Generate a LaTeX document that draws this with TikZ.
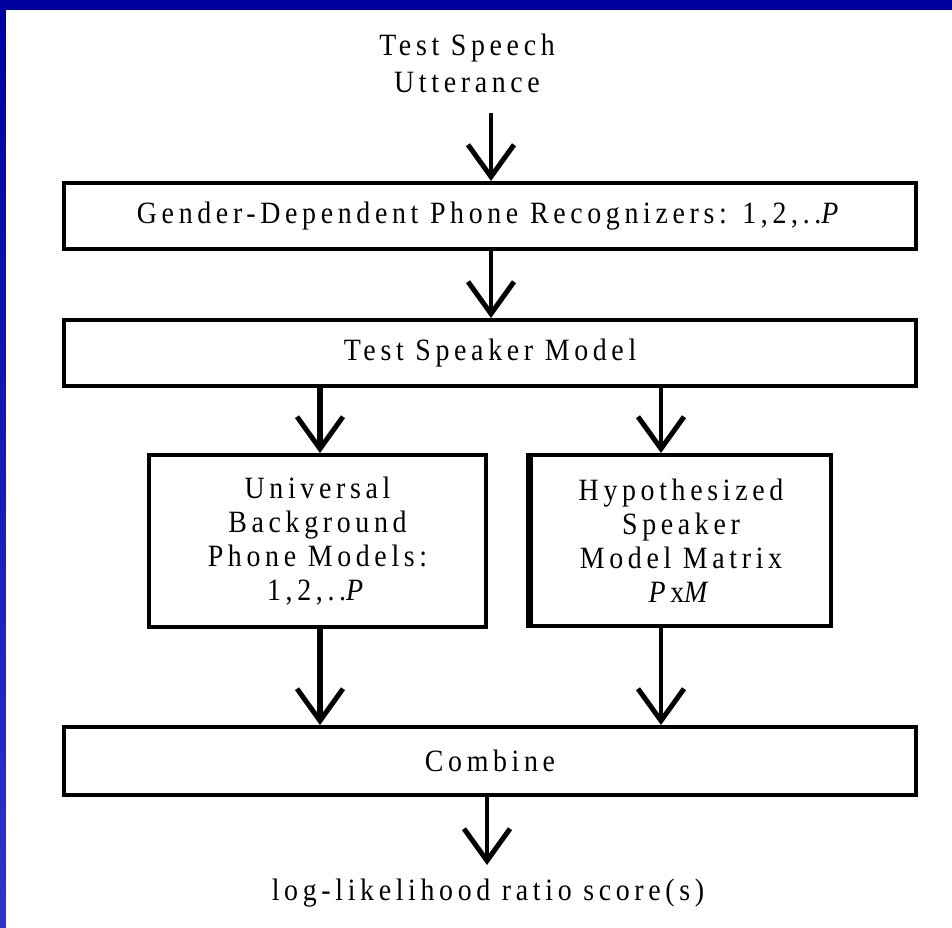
\documentclass[tikz,border=0pt]{standalone}
\usepackage{fontspec}
\setmainfont{Liberation Serif}[LetterSpace=15, FakeStretch=0.9]
\usetikzlibrary{arrows.meta,calc}
\definecolor{bgtop}{RGB}{0,0,160}
\definecolor{bgbot}{RGB}{50,50,205}
\begin{document}
\begin{tikzpicture}[x=1pt,y=-1pt,
  txt/.style={font=\fontsize{31}{34}\selectfont, align=center, inner sep=0pt},
  box/.style={txt, draw, line width=4pt},
  arr/.style={line width=4pt, -{Straight Barb[length=32pt,width=46pt,line width=5pt]}},
  thickarr/.style={arr, line width=6pt},
]
\useasboundingbox (0,0) rectangle (952,927);
\shade[top color=bgtop, bottom color=bgbot] (0,0) rectangle (952,927);
\fill[white] (6,10) rectangle (960,935);

\node[txt, font=\fontsize{31}{37}\selectfont] (in) at (467,63) {Test Speech\\Utterance};
\node[box, minimum width=852pt, minimum height=66pt] (b1) at (490,216)
  {Gender-Dependent Phone Recognizers: 1,2,..\textit{P}};
\node[box, minimum width=852pt, minimum height=66pt] (b2) at (490,353) {Test Speaker Model};
\node[box, minimum width=337pt, minimum height=172pt] (ubm) at (317.5,541)
  {Universal\\Background\\Phone Models:\\1,2,..\textit{P}};
\node[box, minimum width=300pt, minimum height=171pt] (hyp) at (681,540.5)
  {Hypothesized\\Speaker\\Model Matrix\\\textit{P}x\textit{M}};
\draw[line width=7pt] (hyp.north west) -- (hyp.south west);
\node[box, minimum width=852pt, minimum height=68pt] (comb) at (490,761) {Combine};
\node[txt] (out) at (488,893) {log-likelihood ratio score(s)};

\coordinate (s1) at (491,113);
\coordinate (xl) at (320,0);
\coordinate (xr) at (661,0);
\coordinate (xo) at (487,0);
\coordinate (e5) at (487,865);

\draw[arr] (s1) -- (s1 |- b1.north);
\draw[arr] (b1.south -| s1) -- (b2.north -| s1);
\draw[thickarr] (b2.south -| xl) -- (ubm.north -| xl);
\draw[arr] (b2.south -| xr) -- (hyp.north -| xr);
\draw[thickarr] (ubm.south -| xl) -- (comb.north -| xl);
\draw[arr] (hyp.south -| xr) -- (comb.north -| xr);
\draw[arr] (comb.south -| xo) -- (e5);
\end{tikzpicture}
\end{document}
